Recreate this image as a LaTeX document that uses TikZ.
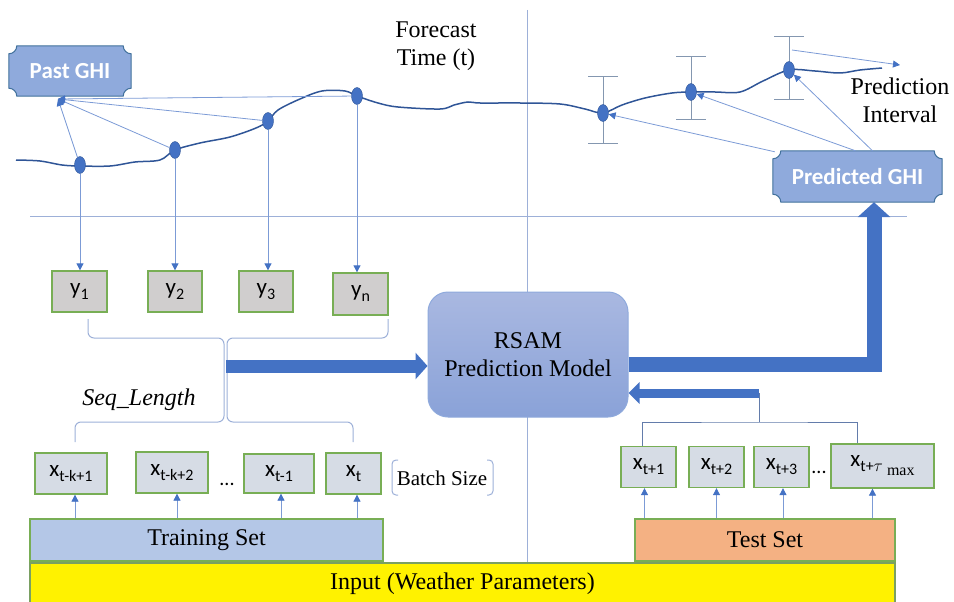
\documentclass[tikz,border=0pt]{standalone}
\usepackage{fontspec}
\setmainfont{Liberation Serif}
\newfontfamily\calib{Carlito}
\usetikzlibrary{arrows.meta,shapes.geometric,calc,backgrounds}
\definecolor{dblue}{HTML}{4472C4}
\definecolor{curvec}{HTML}{2F5597}
\definecolor{lblue}{HTML}{7C9BD6}
\definecolor{axisc}{HTML}{9DB0D8}
\definecolor{plaquef}{HTML}{8FAADC}
\definecolor{plaqued}{HTML}{41719C}
\definecolor{bgreen}{HTML}{78AE55}
\definecolor{ygrey}{HTML}{D0CECE}
\definecolor{xgrey}{HTML}{D6DCE5}
\definecolor{trainf}{HTML}{B4C7E7}
\definecolor{testf}{HTML}{F4B183}
\definecolor{modtop}{HTML}{A9B8E1}
\definecolor{modbot}{HTML}{8AA2D8}
\definecolor{errc}{HTML}{8497B0}
\newcommand\lowsub[1]{\raisebox{-5pt}{\fontsize{16}{16}\selectfont #1}}
\newcommand\plaquepath[1]{%
  ($(#1.north west)+(8,0)$) -- ($(#1.north east)+(-8,0)$)
  .. controls ($(#1.north east)+(-8,4.4)$) and ($(#1.north east)+(-4.4,8)$) .. ($(#1.north east)+(0,8)$)
  -- ($(#1.south east)+(0,-8)$)
  .. controls ($(#1.south east)+(-4.4,-8)$) and ($(#1.south east)+(-8,-4.4)$) .. ($(#1.south east)+(-8,0)$)
  -- ($(#1.south west)+(8,0)$)
  .. controls ($(#1.south west)+(8,-4.4)$) and ($(#1.south west)+(4.4,-8)$) .. ($(#1.south west)+(0,-8)$)
  -- ($(#1.north west)+(0,8)$)
  .. controls ($(#1.north west)+(4.4,8)$) and ($(#1.north west)+(8,4.4)$) .. ($(#1.north west)+(8,0)$) -- cycle}
\begin{document}
\begin{tikzpicture}[x=1pt,y=-1pt,
  serif/.style={font=\fontsize{24}{28}\selectfont, inner sep=0pt},
  axisline/.style={draw=axisc, line width=1pt},
  curve/.style={draw=curvec, line width=1.5pt},
  errbar/.style={draw=errc, line width=1pt},
  dot/.style={ellipse, fill=dblue, draw=curvec, line width=0.4pt, minimum width=11pt, minimum height=17pt, inner sep=0pt},
  thinarr/.style={draw=lblue, line width=0.8pt, -{Triangle[length=7pt,width=7pt,color=dblue]}},
  thinline/.style={draw=lblue!80!black, line width=0.8pt},
  bracec/.style={draw=axisc, line width=1pt, rounded corners=6pt},
  plaquetext/.style={text=white, font=\calib\bfseries\fontsize{23}{26}\selectfont, inner sep=0pt},
  plaque/.style={fill=plaquef, draw=plaqued, line width=1pt},
  ybox/.style={draw=bgreen, line width=1.3pt, fill=ygrey, minimum width=55pt, minimum height=41pt, inner sep=0pt, font=\calib\fontsize{23}{26}\selectfont},
  xbox/.style={draw=bgreen, line width=1.3pt, fill=xgrey, minimum width=55pt, minimum height=41pt, inner sep=0pt, font=\calib\fontsize{23}{26}\selectfont},
  setbox/.style={draw=bgreen, line width=1.3pt, minimum height=42pt, inner sep=0pt, font=\fontsize{24}{28}\selectfont},
  bigarr/.style={draw=dblue, line width=15pt, -{Triangle[length=15pt,width=32pt]}},
  midarr/.style={draw=dblue, line width=13pt, -{Triangle[length=12pt,width=26pt]}},
  smallarr/.style={draw=dblue, line width=9pt, -{Triangle[length=11pt,width=21pt]}}
]
\useasboundingbox (0,0) rectangle (954,602);

% axes
\draw[axisline] (30,216) -- (907,216);
\draw[axisline] (527,10) -- (527,562);

% curve
\draw[curve] plot[smooth, tension=0.55] coordinates {
 (16,160) (40,161) (62,165) (80,166) (110,166) (135,162) (160,160) (175,150)
 (200,143) (230,137) (256,128) (268,121) (278,110) (300,99) (322,91) (345,91) (357,96)
 (378,103) (398,107) (440,109) (454,105) (468,102) (480,103) (520,103) (560,104)
 (585,109) (603,113) (622,105) (645,98) (672,93) (691,92) (715,92) (740,92)
 (763,81) (789,70) (815,71) (840,73) (860,70) (882,68)};

% error bars
\foreach \x/\a/\b in {603/77/143, 691/57/119, 789/37/100}{
  \draw[errbar] (\x,\a) -- (\x,\b);
  \draw[errbar] (\x-15,\a) -- (\x+15,\a);
  \draw[errbar] (\x-15,\b) -- (\x+15,\b);
}

% dots
\node[dot] (d1) at (80,165) {};
\node[dot] (d2) at (175,150) {};
\node[dot] (d3) at (268,121) {};
\node[dot] (d4) at (357,96) {};
\node[dot] (d5) at (603,113) {};
\node[dot] (d6) at (691,92) {};
\node[dot] (d7) at (789,70) {};

% plaques
\node[plaquetext, minimum width=122pt, minimum height=50pt] (past) at (70,71) {Past GHI};
\node[plaquetext, minimum width=169pt, minimum height=51pt] (pred) at (857.5,176.5) {Predicted GHI};
\begin{scope}[on background layer]
  \filldraw[plaque] \plaquepath{past};
  \filldraw[plaque] \plaquepath{pred};
\end{scope}

% arrows to Past GHI
\coordinate (pg) at (58,99);
\foreach \d in {d1,d2,d3,d4} \draw[thinarr] (\d) -- (pg);

% arrows from Predicted GHI
\draw[thinarr] ([xshift=2pt,yshift=-1pt]pred.north west) -- (d5);
\draw[thinarr] ([xshift=-2pt]pred.north) -- (d6);
\draw[thinarr] ([xshift=15pt]pred.north) -- (d7);

% prediction interval
\coordinate (pistart) at (792,50);
\coordinate (piend) at (900,65);
\draw[thinarr] (pistart) -- (piend);
\node[serif, align=center] (pitext) at (900,100) {Prediction\\Interval};
\node[serif, align=center] (fctext) at (436,46) {Forecast\\Time (t)};

% y boxes
\node[ybox] (y1) at (79.5,291.5) {y\lowsub{1}};
\node[ybox, minimum width=54pt] (y2) at (175,291.5) {y\lowsub{2}};
\node[ybox, minimum width=54pt] (y3) at (266,291.5) {y\lowsub{3}};
\node[ybox, minimum height=42pt] (yn) at (360.5,294) {y\lowsub{n}};
\draw[thinarr] (d1) -- (d1 |- y1.north);
\draw[thinarr] (d2) -- (d2 |- y2.north);
\draw[thinarr] (d3) -- (d3 |- y3.north);
\draw[thinarr] (d4) -- (d4 |- yn.north);

% braces
\draw[bracec] (88,319) -- (88,338) -- (224,338) -- (224,422) -- (75,422) -- (75,442);
\draw[bracec] (388,319) -- (388,338) -- (227,338) -- (227,422) -- (353,422) -- (353,442);
\node[font=\itshape\fontsize{24}{28}\selectfont, inner sep=0pt] (seq) at (139,400) {Seq\_Length};

% model
\node[draw=plaquef, line width=1pt, rounded corners=20pt, top color=modtop, bottom color=modbot,
      minimum width=200pt, minimum height=125pt, align=center, font=\fontsize{24}{28}\selectfont] (model) at (528,354.5) {RSAM\\Prediction Model};

% training x boxes
\node[xbox, minimum width=72pt] (xa) at (71,473.5) {x\lowsub{t-k+1}};
\node[xbox, minimum width=72pt] (xb) at (172,472.5) {x\lowsub{t-k+2}};
\node[xbox, minimum width=70pt, minimum height=39pt] (xc) at (279,473.5) {x\lowsub{t-1}};
\node[xbox] (xd) at (353.5,473.5) {x\lowsub{t}};
\node[font=\calib\fontsize{20}{24}\selectfont, inner sep=0pt] (dotsa) at (227,484) {...};
\node[font=\fontsize{21}{24}\selectfont, inner sep=0pt] (batch) at (442,478) {Batch Size};
\draw[bracec, rounded corners=4pt] (398,460) -- (392,460) -- (392,495) -- (398,495);
\draw[bracec, rounded corners=4pt] (487,460) -- (493,460) -- (493,495) -- (487,495);

% sets
\node[setbox, fill=yellow, draw=bgreen!70!gray, minimum width=865pt] (inp) at (462.5,584) {Input (Weather Parameters)};
\node[setbox, fill=trainf, minimum width=353pt] (train) at (206.5,540) {Training Set};
\node[setbox, fill=testf, minimum width=260pt] (test) at (765,540) {Test Set};

% training arrows
\draw[thinarr] ([xshift=4pt]xa.south |- train.north) -- ([xshift=4pt]xa.south);
\draw[thinarr] ([xshift=5pt]xb.south |- train.north) -- ([xshift=5pt]xb.south);
\draw[thinarr] ([xshift=2pt]xc.south |- train.north) -- ([xshift=2pt]xc.south);
\draw[thinarr] ([xshift=3.5pt]xd.south |- train.north) -- ([xshift=3.5pt]xd.south);

% test boxes
\node[xbox] (xt1) at (648.5,467) {x\lowsub{t+1}};
\node[xbox] (xt2) at (716.5,467) {x\lowsub{t+2}};
\node[xbox] (xt3) at (781.5,467) {x\lowsub{t+3}};
\node[xbox, minimum width=103pt, minimum height=44pt] (xtm) at (882.5,466) {x\lowsub{t+$\tau$\raisebox{-4pt}{\rmfamily\ max}}};
\node[font=\calib\fontsize{20}{24}\selectfont, inner sep=0pt] (dotsb) at (819,472) {...};
\draw[thinarr] ([xshift=-4pt]xt1.south |- test.north) -- ([xshift=-4pt]xt1.south);
\draw[thinarr] (xt2.south |- test.north) -- (xt2.south);
\draw[thinarr] ([xshift=1.5pt]xt3.south |- test.north) -- ([xshift=1.5pt]xt3.south);
\draw[thinarr] ([xshift=-10pt]xtm.south |- test.north) -- ([xshift=-10pt]xtm.south);

% test connector
\coordinate (tjoin) at (759,393);
\coordinate (tbar) at (759,422);
\draw[thinline] (tjoin) -- (tbar);
\draw[thinline] ([xshift=-6pt]xt1.north) |- (tbar) -| ([xshift=-25pt]xtm.north);

% thick arrows
\coordinate (brc) at (226,366);
\draw[midarr] (brc) -- (model.west |- brc);
\draw[smallarr] (tjoin) -- (model.east |- tjoin);
\draw[bigarr] ([yshift=-10pt]model.east) -| ([xshift=16.5pt]pred.south);
\end{tikzpicture}
\end{document}
